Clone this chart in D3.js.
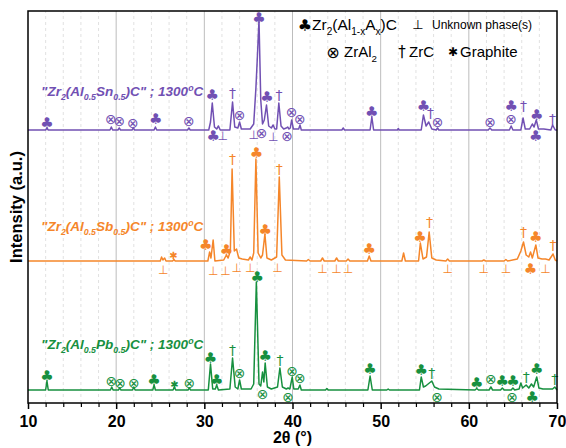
<!DOCTYPE html>
<html>
<head>
<meta charset="utf-8">
<script src="https://cdn.jsdelivr.net/npm/d3@7"></script>
<style>
  body { margin: 0; background: #fff; }
  svg { display: block; font-family: "Liberation Sans", Arial, sans-serif; }
</style>
</head>
<body>
<div id="chart"></div>
<script>
// 2theta axis
const majorTicks = [10, 20, 30, 40, 50, 60, 70];
const minorTicks = [12, 14, 16, 18, 22, 24, 26, 28, 32, 34, 36, 38, 42, 44, 46, 48, 52, 54, 56, 58, 62, 64, 66, 68];
const gridMajor = [20, 30, 40, 50, 60];

// baseline level of each pattern (a.u.)
const seriesNames = ['Sn', 'Sb', 'Pb'];
const seriesColors = ['#7150b3', '#f5862a', '#17903f'];
const offsets = [273, 142, 13];

// patterns: [2theta, intensity above baseline]
const snPattern = [
  [10,0],[12.0,0],[12.15,2],[12.3,0],
  [19.3,0],[19.45,3],[19.6,0],[20.2,0],[20.35,2],[20.5,0],[21.8,0],[21.95,2],[22.1,0],
  [24.3,0],[24.45,3],[24.6,0],[28.1,0],[28.25,2],[28.4,0],
  [30.5,0],[30.7,8],[30.9,27],[31.15,3],[31.4,1],[31.6,4],[31.8,0],
  [32.9,0],[33.2,28],[33.45,3],[33.8,2],[34.0,8],[34.2,1],
  [35.2,1],[35.6,6],[35.85,42],[36.0,70],[36.2,110],[36.4,30],[36.6,6],[36.8,10],[37.05,25],[37.3,4],[37.6,2],[37.8,5],[38.0,1],
  [38.2,1],[38.45,27],[38.7,4],[39.0,1],[39.3,2],[39.45,3],[39.6,1],[39.75,2],[39.9,10],[40.1,1],[40.7,1],[40.85,5],[41.0,0],
  [45.6,0],[45.75,2],[45.9,0],[48.8,0],[49.0,13],[49.2,0],[51.9,0],[52.0,1.5],[52.1,0],
  [54.6,0],[54.85,15],[55.15,4],[55.45,8],[55.8,1],[56.3,0],[56.45,2],[56.6,0],
  [62.2,0],[62.4,2],[62.6,0],[64.6,0],[64.8,4],[65.0,0],
  [65.9,0],[66.15,12],[66.4,1],[66.9,1],[67.2,6],[67.4,3],[67.65,10],[67.9,1],[68.5,1],
  [69.3,0],[69.5,5],[69.8,0],[70,0]
];
const sbPattern = [
  [10,0],[25.0,0],[25.15,4],[25.3,1],[25.5,3],[25.65,0],[26.4,0],[26.55,1.5],[26.7,0],
  [30.4,0],[30.6,9],[30.75,3],[31.0,21],[31.2,0],
  [32.2,1],[32.5,6],[32.7,3],[32.95,10],[33.15,92],[33.4,10],[33.65,12],[33.9,3],[34.3,2],
  [35.0,1],[35.2,4],[35.4,1],[35.6,8],[35.85,102],[36.1,8],[36.4,3],[36.6,6],[36.87,27],[37.1,3],[37.6,1],
  [38.2,4],[38.5,84],[38.8,6],[39.2,1],
  [41.6,0],[41.8,1.5],[42.0,0],[43.2,0],[43.4,3],[43.6,0],[44.8,0],[45.0,3],[45.2,0],[46.1,0],[46.3,2],[46.5,0],
  [48.5,0],[48.7,5],[48.9,0],[52.4,0],[52.6,8],[52.8,0],
  [54.3,0],[54.5,18],[54.8,2],[55.2,4],[55.5,29],[55.8,3],[56.3,1],
  [57.4,0],[57.6,2],[57.8,0],[61.5,0],[61.7,1],[61.9,0],[64.0,0],[64.2,1.5],[64.4,0],
  [65.5,2],[65.9,10],[66.2,19],[66.5,6],[66.8,4],[67.0,9],[67.2,3],[67.6,16],[67.85,3],[68.3,2],[68.7,2],[69.1,1],
  [69.55,7],[69.8,1],[70,0]
];
const pbPattern = [
  [10,0],[12.0,0],[12.15,9],[12.3,0],
  [19.35,0],[19.5,3],[19.65,0],[20.25,0],[20.4,2],[20.55,0],[21.85,0],[22.0,3],[22.15,0],
  [24.15,0],[24.3,5],[24.45,0],[26.45,0],[26.6,3],[26.75,0],[28.15,0],[28.3,2],[28.45,0],
  [30.45,0],[30.7,26],[30.95,1],[31.25,1],[31.4,5],[31.6,0],
  [32.9,1],[33.2,32],[33.5,3],[33.8,1],[34.0,10],[34.2,1],
  [35.3,1],[35.6,6],[35.9,108],[36.2,6],[36.4,4],[36.6,18],[36.75,8],[36.9,27],[37.15,3],[37.6,1],
  [38.3,3],[38.57,22],[38.85,3],[39.3,1],[39.5,2],[39.7,1],[39.97,13],[40.15,1],[40.65,1],[40.84,5],[41.0,0],
  [43.75,0],[43.9,1.5],[44.05,0],[48.55,0],[48.8,14],[49.05,0],[50.7,0],[50.85,1],[51.0,0],
  [54.4,0],[54.6,13],[54.85,3],[55.1,4],[55.8,9],[56.1,3],[56.6,1],
  [60.7,0],[60.9,1.5],[61.1,0],[62.3,0],[62.5,3],[62.7,0],[63.6,0],[63.8,2],[64.0,0],[64.8,0],[65.0,2],[65.2,0],
  [65.7,1],[65.9,7],[66.1,2],[66.5,5],[66.8,2],[67.1,6],[67.35,3],[67.7,13],[67.95,2],[68.4,1],
  [69.5,1],[69.75,3],[70,0]
];

// phase marks: [phase, 2theta, level above baseline]
const snMarks = [
  ['club',12.15,7],['ox',19.4,11],['ox',20.35,9],['ox',21.9,7],['club',24.5,11],['ox',28.25,9],
  ['club',30.9,35],['club',31.0,-6],['perp',32.1,-6],['dag',33.2,37],['ox',34.0,15],
  ['club',36.2,112],['perp',35.6,-5],['ox',36.5,-3],['club',37.1,33],['perp',37.8,-7],['dag',38.46,35],
  ['ox',39.9,18],['ox',39.4,-6],['ox',40.84,11],['club',49.0,18],['club',54.85,24],['dag',55.65,17],['ox',56.45,8],
  ['ox',62.4,8],['club',64.8,24],['ox',64.8,11],['dag',66.2,24],['club',67.7,15],['club',67.6,-6],['dag',69.5,11]
];
const sbMarks = [
  ['perp',25.35,-9],['star',26.5,6],['club',30.15,16],['perp',31.0,-10],['club',32.5,11],['perp',32.4,-10],
  ['dag',33.2,102],['perp',33.66,-7],['perp',35.2,-7],['club',35.9,108],['club',36.9,31],['dag',38.5,92],['perp',38.3,-7],
  ['perp',43.4,-8],['perp',45.0,-8],['perp',46.3,-8],['club',48.7,12],['club',54.45,24],['dag',55.55,39],['perp',57.6,-8],
  ['perp',61.7,-8],['perp',64.2,-8],['dag',66.2,29],['club',67.6,24],['club',67.0,-8],['perp',68.7,-8],['dag',69.55,16]
];
const pbMarks = [
  ['club',12.15,14],['ox',19.45,9],['ox',20.45,7],['ox',22.0,7],['club',24.3,10],['star',26.6,6],['ox',28.3,7],
  ['club',30.7,32],['club',31.4,10],['dag',33.2,40],['ox',34.0,17],['club',36.0,113],['club',36.9,34],['ox',36.6,-4],
  ['dag',38.57,30],['ox',39.97,19],['ox',39.5,-7],['ox',40.84,12],['club',48.8,21],['club',54.6,20],['dag',55.8,17],
  ['ox',56.4,-7],['club',60.9,7],['ox',62.5,11],['club',63.8,9],['club',65.0,9],['ox',64.9,-7],['dag',66.5,13],
  ['club',67.7,21],['club',67.2,-7],['dag',69.75,11]
];

const patterns = [snPattern, sbPattern, pbPattern];
const marks = [snMarks, sbMarks, pbMarks];
const glyphs = { club: '\u2663', ox: '\u2297', dag: '\u2020', perp: '\u22A5', star: '\u2731' };

const width = 566, height = 448;
const margin = { top: 11, right: 9, bottom: 45, left: 28 };

const svg = d3.select('#chart').append('svg')
  .attr('width', width)
  .attr('height', height);

const x = d3.scaleLinear().domain([10, 70]).range([margin.left, width - margin.right]);
const y = d3.scaleLinear().domain([0, 392]).range([height - margin.bottom, margin.top]);

// grid
svg.append('g').selectAll('line.minor')
  .data(minorTicks)
  .enter().append('line')
  .attr('x1', d => x(d)).attr('x2', d => x(d))
  .attr('y1', y(0)).attr('y2', y(392))
  .attr('stroke', '#d9d9d9').attr('stroke-dasharray', '3,3').attr('stroke-width', 0.8);

svg.append('g').selectAll('line.major')
  .data(gridMajor)
  .enter().append('line')
  .attr('x1', d => x(d)).attr('x2', d => x(d))
  .attr('y1', y(0)).attr('y2', y(392))
  .attr('stroke', '#bdbdbd').attr('stroke-width', 1);

// patterns
const line = d3.line().x(d => x(d[0])).y(d => y(d[1]));
patterns.forEach((p, i) => {
  svg.append('path')
    .datum(p.map(d => [d[0], d[1] + offsets[i]]))
    .attr('d', line)
    .attr('fill', 'none')
    .attr('stroke', seriesColors[i])
    .attr('stroke-width', 1.5)
    .attr('stroke-linejoin', 'round');
});

// phase marks
const markSize = { club: 15, ox: 14, dag: 14, perp: 12, star: 10 };
marks.forEach((m, i) => {
  svg.append('g').selectAll('text')
    .data(m)
    .enter().append('text')
    .attr('x', d => x(d[1]))
    .attr('y', d => y(d[2] + offsets[i]))
    .attr('text-anchor', 'middle')
    .attr('dominant-baseline', 'central')
    .attr('fill', seriesColors[i])
    .style('font-family', '"DejaVu Sans", sans-serif')
    .style('font-size', d => markSize[d[0]] + 'px')
    .text(d => glyphs[d[0]]);
});

// frame + axes
svg.append('rect')
  .attr('x', x(10)).attr('y', y(392))
  .attr('width', x(70) - x(10)).attr('height', y(0) - y(392))
  .attr('fill', 'none').attr('stroke', '#000').attr('stroke-width', 1.5);

const xAxis = svg.append('g')
  .attr('transform', `translate(0,${y(0)})`)
  .call(d3.axisBottom(x).tickValues(majorTicks).tickSize(6).tickFormat(d3.format('d')));
xAxis.select('.domain').remove();
xAxis.selectAll('.tick line').attr('stroke-width', 1.5);
xAxis.selectAll('.tick text')
  .attr('dy', 0).attr('y', 24)
  .style('font-size', '16px').style('font-weight', 'bold')
  .style('font-family', '"Liberation Sans", Arial, sans-serif');

const xMinor = svg.append('g')
  .attr('transform', `translate(0,${y(0)})`)
  .call(d3.axisBottom(x).tickValues(minorTicks).tickSize(4).tickFormat(''));
xMinor.select('.domain').remove();
xMinor.selectAll('.tick line').attr('stroke-width', 1.2);

// axis titles
svg.append('text')
  .attr('x', (x(10) + x(70)) / 2).attr('y', 443)
  .attr('text-anchor', 'middle')
  .style('font-size', '16px').style('font-weight', 'bold')
  .text('2\u03B8 (\u00B0)');

svg.append('text')
  .attr('transform', `translate(22,${(y(0) + y(392)) / 2}) rotate(-90)`)
  .attr('text-anchor', 'middle')
  .style('font-size', '16.5px').style('font-weight', 'bold')
  .text('Intensity (a.u.)');

// rich text helper: parts = [[text, 'n'|'sub'|'sup']]
function richText(g, parts, size) {
  let shift = 0;
  parts.forEach(([t, k]) => {
    const target = k === 'sub' ? size * 0.3 : k === 'sup' ? -size * 0.4 : 0;
    g.append('tspan')
      .attr('dy', target - shift)
      .style('font-size', (k === 'n' ? size : size * 0.65) + 'px')
      .text(t);
    shift = target;
  });
}

// sample labels
const sampleLabels = [
  ['"Zr', ['2', 'sub'], '(Al', ['0.5', 'sub'], 'Sn', ['0.5', 'sub'], ')C" ; 1300', ['o', 'sup'], 'C'],
  ['"Zr', ['2', 'sub'], '(Al', ['0.5', 'sub'], 'Sb', ['0.5', 'sub'], ')C" ; 1300', ['o', 'sup'], 'C'],
  ['"Zr', ['2', 'sub'], '(Al', ['0.5', 'sub'], 'Pb', ['0.5', 'sub'], ')C" ; 1300', ['o', 'sup'], 'C']
];
const labelLevels = [34, 30, 41];
sampleLabels.forEach((lab, i) => {
  const t = svg.append('text')
    .attr('x', 41).attr('y', y(offsets[i] + labelLevels[i]))
    .attr('fill', seriesColors[i])
    .style('font-weight', 'bold').style('font-style', 'italic');
  richText(t, lab.map(p => Array.isArray(p) ? p : [p, 'n']), 13.5);
});

// legend
const legend = svg.append('g').attr('fill', '#000');
const legendGlyph = (gx, gy, key, size) => legend.append('text')
  .attr('x', gx).attr('y', gy)
  .attr('text-anchor', 'middle').attr('dominant-baseline', 'central')
  .style('font-family', '"DejaVu Sans", sans-serif').style('font-size', size + 'px')
  .text(glyphs[key]);

legendGlyph(305, 25, 'club', 16);
richText(legend.append('text').attr('x', 312).attr('y', 30),
  [['Zr', 'n'], ['2', 'sub'], ['(Al', 'n'], ['1-x', 'sub'], ['A', 'n'], ['x', 'sub'], [')C', 'n']], 15.5);
legendGlyph(418, 24, 'perp', 13);
legend.append('text').attr('x', 432).attr('y', 29).style('font-size', '12px').text('Unknown phase(s)');

legendGlyph(333, 52, 'ox', 16);
richText(legend.append('text').attr('x', 344).attr('y', 57), [['ZrAl', 'n'], ['2', 'sub']], 15);
legendGlyph(402, 52, 'dag', 15);
legend.append('text').attr('x', 409).attr('y', 57).style('font-size', '15px').text('ZrC');
legendGlyph(453, 52, 'star', 12);
legend.append('text').attr('x', 460).attr('y', 57).style('font-size', '15px').text('Graphite');
</script>
</body>
</html>
